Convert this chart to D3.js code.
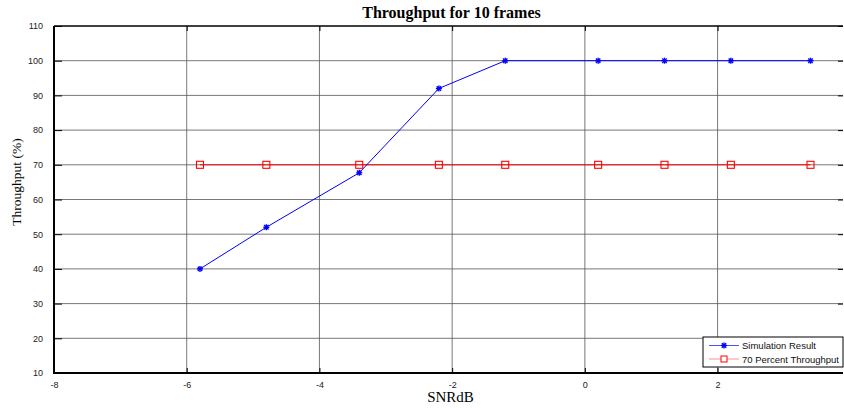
<!DOCTYPE html>
<html>
<head>
<meta charset="utf-8">
<script src="https://cdn.jsdelivr.net/npm/d3@7"></script>
<style>
  body { margin: 0; background: #fff; }
  svg { display: block; }
  .tick text { font-family: "Liberation Sans", Arial, sans-serif; font-size: 9px; fill: #222; }
</style>
</head>
<body>
<svg></svg>
<script>
const WIDTH = 844;
const HEIGHT = 408;

// data
const snr = [-5.8, -4.8, -3.4, -2.2, -1.2, 0.2, 1.2, 2.2, 3.4];
const simResult = [40, 52, 67.7, 92, 100, 100, 100, 100, 100];
const target = [70, 70, 70, 70, 70, 70, 70, 70, 70];
const xTicks = [-8, -6, -4, -2, 0, 2];
const yTicks = [10, 20, 30, 40, 50, 60, 70, 80, 90, 100, 110];
const seriesNames = ['Simulation Result', '70 Percent Throughput'];

const M = {left: 54, right: 843, top: 26, bottom: 373};

const svg = d3.select('svg').attr('width', WIDTH).attr('height', HEIGHT);

const x = d3.scaleLinear().domain([-8, 3.89]).range([M.left, M.right]);
const y = d3.scaleLinear().domain([10, 110]).range([M.bottom, M.top]);

// grid
svg.append('g')
  .selectAll('line')
  .data(yTicks.slice(1, -1))
  .enter()
  .append('line')
  .attr('x1', M.left).attr('x2', M.right)
  .attr('y1', d => y(d)).attr('y2', d => y(d))
  .attr('stroke', '#555').attr('stroke-width', 0.8);

svg.append('g')
  .selectAll('line')
  .data(xTicks.slice(1))
  .enter()
  .append('line')
  .attr('x1', d => x(d)).attr('x2', d => x(d))
  .attr('y1', M.top).attr('y2', M.bottom)
  .attr('stroke', '#555').attr('stroke-width', 0.8);

// axes (ticks point inward, matlab style); plain hyphen for negatives
const plain = d => String(d);

svg.append('g')
  .attr('transform', `translate(0,${M.bottom})`)
  .call(d3.axisBottom(x).tickValues(xTicks).tickFormat(plain).tickSizeInner(-5).tickSizeOuter(0).tickPadding(9))
  .call(g => g.select('.domain').remove())
  .call(g => g.selectAll('.tick line').attr('stroke', '#000'));

svg.append('g')
  .attr('transform', `translate(0,${M.top})`)
  .call(d3.axisTop(x).tickValues(xTicks).tickSizeInner(-5).tickSizeOuter(0).tickFormat(''))
  .call(g => g.select('.domain').remove())
  .call(g => g.selectAll('.tick line').attr('stroke', '#000'));

svg.append('g')
  .attr('transform', `translate(${M.left},0)`)
  .call(d3.axisLeft(y).tickValues(yTicks).tickFormat(plain).tickSizeInner(-8).tickSizeOuter(0).tickPadding(11))
  .call(g => g.select('.domain').remove())
  .call(g => g.selectAll('.tick line').attr('stroke', '#000'));

svg.append('g')
  .attr('transform', `translate(${M.right},0)`)
  .call(d3.axisRight(y).tickValues(yTicks).tickSizeInner(-5).tickSizeOuter(0).tickFormat(''))
  .call(g => g.select('.domain').remove())
  .call(g => g.selectAll('.tick line').attr('stroke', '#000'));

// frame
svg.append('line').attr('x1', M.left).attr('x2', M.right).attr('y1', M.bottom).attr('y2', M.bottom)
  .attr('stroke', '#000').attr('stroke-width', 2);
svg.append('line').attr('x1', M.left).attr('x2', M.left).attr('y1', M.top).attr('y2', M.bottom + 1)
  .attr('stroke', '#000').attr('stroke-width', 2);
svg.append('line').attr('x1', M.left).attr('x2', M.right).attr('y1', M.top).attr('y2', M.top)
  .attr('stroke', '#000').attr('stroke-width', 1.5);

// series
const line = d3.line().x(d => x(d[0])).y(d => y(d[1]));
const simPts = snr.map((s, i) => [s, simResult[i]]);
const tgtPts = snr.map((s, i) => [s, target[i]]);

svg.append('path').attr('d', line(tgtPts))
  .attr('fill', 'none').attr('stroke', '#f00').attr('stroke-width', 1);
svg.append('path').attr('d', line(simPts))
  .attr('fill', 'none').attr('stroke', '#00f').attr('stroke-width', 1);

function star(g, cx, cy) {
  const r = 3;
  const s = g.append('g').attr('stroke', '#00f').attr('stroke-width', 1.4);
  s.append('line').attr('x1', cx - r).attr('x2', cx + r).attr('y1', cy).attr('y2', cy);
  s.append('line').attr('x1', cx).attr('x2', cx).attr('y1', cy - r).attr('y2', cy + r);
  s.append('line').attr('x1', cx - 2.2).attr('x2', cx + 2.2).attr('y1', cy - 2.2).attr('y2', cy + 2.2);
  s.append('line').attr('x1', cx - 2.2).attr('x2', cx + 2.2).attr('y1', cy + 2.2).attr('y2', cy - 2.2);
}

svg.append('g')
  .selectAll('rect')
  .data(tgtPts)
  .enter()
  .append('rect')
  .attr('x', d => x(d[0]) - 3.5).attr('y', d => y(d[1]) - 3.5)
  .attr('width', 7).attr('height', 7)
  .attr('fill', 'none').attr('stroke', '#f00').attr('stroke-width', 1.1);

const stars = svg.append('g');
simPts.forEach(d => star(stars, x(d[0]), y(d[1])));

// legend
const lg = svg.append('g');
lg.append('rect').attr('x', 703).attr('y', 337).attr('width', 140).attr('height', 30)
  .attr('fill', '#fff').attr('stroke', '#000').attr('stroke-width', 1);
const rows = [345.5, 359];
lg.append('line').attr('x1', 709).attr('x2', 739).attr('y1', rows[0]).attr('y2', rows[0])
  .attr('stroke', '#4d4dff');
star(lg, 724, rows[0]);
lg.append('line').attr('x1', 709).attr('x2', 739).attr('y1', rows[1]).attr('y2', rows[1])
  .attr('stroke', '#ff9090');
lg.append('rect').attr('x', 724 - 3).attr('y', rows[1] - 3).attr('width', 6).attr('height', 6)
  .attr('fill', '#fff').attr('stroke', '#f00');
lg.selectAll('text')
  .data(seriesNames)
  .enter()
  .append('text')
  .attr('x', 742)
  .attr('y', (d, i) => rows[i] + 3.5)
  .attr('font-family', '"Liberation Sans", Arial, sans-serif')
  .attr('font-size', 9.5)
  .attr('fill', '#111')
  .text(d => d);

// labels
svg.append('text')
  .attr('x', (M.left + M.right) / 2 + 3).attr('y', 18)
  .attr('text-anchor', 'middle')
  .attr('font-family', '"Liberation Serif", "Times New Roman", serif')
  .attr('font-weight', 'bold').attr('font-size', 16)
  .text('Throughput for 10 frames');

svg.append('text')
  .attr('x', (M.left + M.right) / 2 + 2).attr('y', 402)
  .attr('text-anchor', 'middle')
  .attr('font-family', '"Liberation Serif", "Times New Roman", serif')
  .attr('font-size', 15)
  .text('SNRdB');

svg.append('text')
  .attr('transform', 'translate(21,182) rotate(-90)')
  .attr('text-anchor', 'middle')
  .attr('font-family', '"Liberation Serif", "Times New Roman", serif')
  .attr('font-size', 13.5)
  .text('Throughput (%)');
</script>
</body>
</html>
